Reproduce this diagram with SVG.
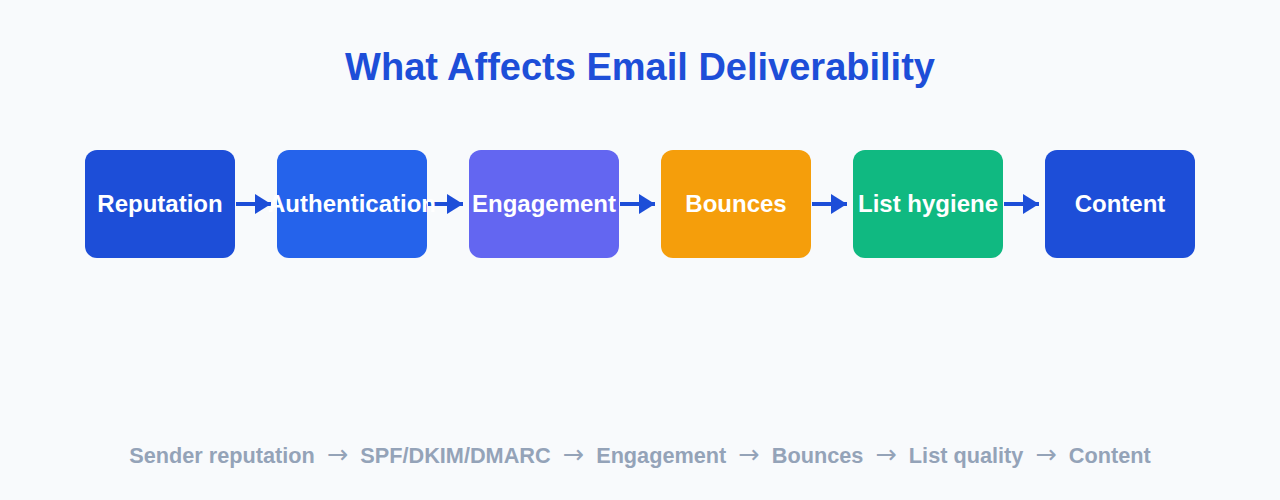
<svg xmlns="http://www.w3.org/2000/svg" width="1280" height="500" viewBox="0 0 1280 500">
<defs>
<marker id="ah" markerWidth="4" markerHeight="5" refX="4" refY="2.5" orient="auto" markerUnits="strokeWidth"><path d="M0,0 L4,2.5 L0,5 Z" fill="#1d4ed8"/></marker>
<style>
.box{rx:12;ry:12}
.lbl{font-family:"Liberation Sans",Arial,sans-serif;font-size:24px;font-weight:bold;fill:#ffffff;text-anchor:middle}
.conn{stroke:#1d4ed8;stroke-width:4;fill:none;marker-end:url(#ah)}
.ar{font-family:"DejaVu Sans",sans-serif;font-weight:normal;font-size:25.5px}
</style>
</defs>
<rect width="1280" height="500" fill="#f8fafc"/>
<text x="640" y="80" font-family="'Liberation Sans',Arial,sans-serif" font-size="38" font-weight="bold" fill="#1d4ed8" text-anchor="middle">What Affects Email Deliverability</text>
<g id="connectors">
<line class="conn" x1="236" y1="204" x2="271" y2="204"/>
<line class="conn" x1="428" y1="204" x2="463" y2="204"/>
<line class="conn" x1="620" y1="204" x2="655" y2="204"/>
<line class="conn" x1="812" y1="204" x2="847" y2="204"/>
<line class="conn" x1="1004" y1="204" x2="1039" y2="204"/>
</g>
<g id="n1"><rect class="box" x="85" y="150" width="150" height="108" fill="#1d4ed8"/><text class="lbl" x="160" y="212">Reputation</text></g>
<g id="n2"><rect class="box" x="277" y="150" width="150" height="108" fill="#2563eb"/><text class="lbl" x="352" y="212">Authentication</text></g>
<g id="n3"><rect class="box" x="469" y="150" width="150" height="108" fill="#6366f1"/><text class="lbl" x="544" y="212">Engagement</text></g>
<g id="n4"><rect class="box" x="661" y="150" width="150" height="108" fill="#f59e0b"/><text class="lbl" x="736" y="212">Bounces</text></g>
<g id="n5"><rect class="box" x="853" y="150" width="150" height="108" fill="#10b981"/><text class="lbl" x="928" y="212">List hygiene</text></g>
<g id="n6"><rect class="box" x="1045" y="150" width="150" height="108" fill="#1d4ed8"/><text class="lbl" x="1120" y="212">Content</text></g>
<text x="640" y="463" xml:space="preserve" style="white-space:pre" font-family="'Liberation Sans',Arial,sans-serif" font-size="21.7" font-weight="bold" fill="#94a3b8" text-anchor="middle">Sender reputation  <tspan class="ar">→</tspan>  SPF/DKIM/DMARC  <tspan class="ar">→</tspan>  Engagement  <tspan class="ar">→</tspan>  Bounces  <tspan class="ar">→</tspan>  List quality  <tspan class="ar">→</tspan>  Content</text>
</svg>
